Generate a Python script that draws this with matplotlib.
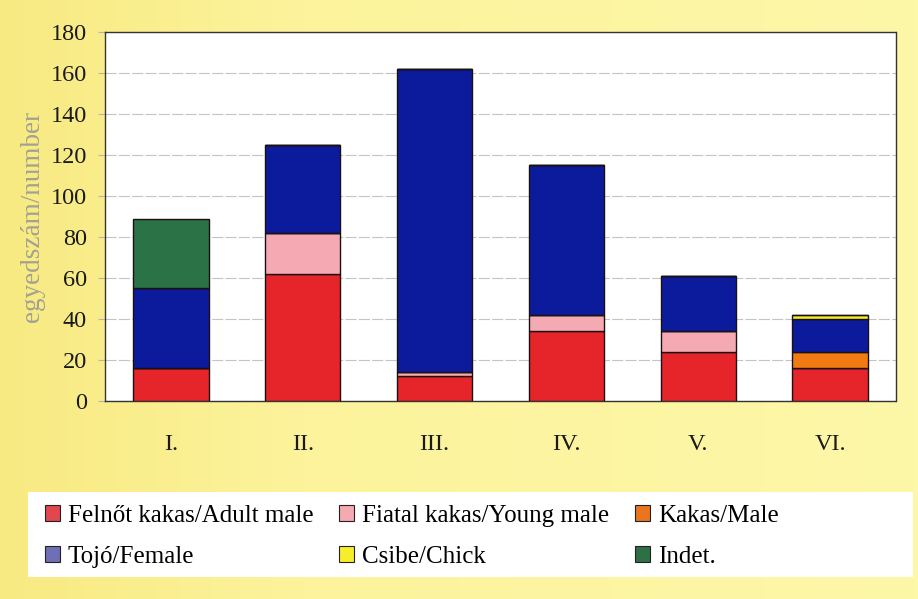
import matplotlib.pyplot as plt
import matplotlib.patches as mpatches
from matplotlib.colors import LinearSegmentedColormap
import numpy as np

plt.rcParams['font.family'] = ['Liberation Serif', 'DejaVu Serif']

periods = ['I.', 'II.', 'III.', 'IV.', 'V.', 'VI.']
adult_male = [16, 62, 12, 34, 24, 16]
young_male = [0, 20, 2, 8, 10, 0]
male = [0, 0, 0, 0, 0, 8]
female = [39, 43, 148, 73, 27, 16]
chick = [0, 0, 0, 0, 0, 2]
indet = [34, 0, 0, 0, 0, 0]

series = [
    ('Felnőt kakas/Adult male', adult_male, '#e5252a'),
    ('Fiatal kakas/Young male', young_male, '#f5a9b2'),
    ('Kakas/Male', male, '#f27a12'),
    ('Tojó/Female', female, '#0c1a9c'),
    ('Csibe/Chick', chick, '#f6ee2a'),
    ('Indet.', indet, '#2b7346'),
]
# legend swatches are printed a bit lighter than the bars
legend_colors = ['#e0474e', '#f5a9b2', '#e9751e', '#6f6fb5', '#f6ee2a', '#2e6f46']

fig = plt.figure(figsize=(9.18, 5.99), dpi=100)
fig.patch.set_facecolor('#fbf39a')

# soft yellow gradient behind everything
bg = fig.add_axes([0, 0, 1, 1], zorder=-10)
grad = np.linspace(0, 1, 256)[None, :]
cmap = LinearSegmentedColormap.from_list('bg', ['#f8ea82', '#fcf39c', '#fcf5a2', '#fdf7a8'])
bg.imshow(grad, aspect='auto', cmap=cmap, extent=[0, 1, 0, 1])
bg.set_axis_off()

ax = fig.add_axes([0.1144, 0.3306, 0.8616, 0.616])
ax.set_facecolor('white')

x = np.arange(len(periods))
bottom = np.zeros(len(periods))
for label, vals, color in series:
    vals = np.array(vals, dtype=float)
    ax.bar(x, vals, 0.57, bottom=bottom, color=color, edgecolor='#1a1010',
           linewidth=1.0, label=label, zorder=3)
    bottom += vals

ax.set_xlim(-0.5, 5.5)
ax.set_ylim(0, 180)
ax.set_yticks(range(0, 181, 20))
ax.set_xticks(x)
ax.set_xticklabels(periods)
ax.tick_params(axis='y', labelsize=17.5, length=5, width=0.8, color='#b5b5b5', pad=8,
               labelcolor='#1a1a1a')
ax.tick_params(axis='x', labelsize=17.5, length=0, pad=24, labelcolor='#1a1a1a')
ax.yaxis.grid(True, color='#c4c4c4', linewidth=0.8, linestyle=(0, (10, 2)), zorder=0)
for side in ['left', 'right', 'top', 'bottom']:
    ax.spines[side].set_linestyle((0, (2, 1)))
    ax.spines[side].set_linewidth(1.0)
    ax.spines[side].set_color('#333333')
ax.set_ylabel('egyedszám/number', fontsize=19.5, color='#a3a290', labelpad=4)

# white band holding the legend
fig.patches.append(mpatches.Rectangle((28 / 918, 22 / 599), 885 / 918, 85 / 599,
                                      transform=fig.transFigure, facecolor='white',
                                      edgecolor='none', zorder=1))
handles = [mpatches.Patch(facecolor=c, edgecolor='#222222', linewidth=0.8)
           for c in legend_colors]
labels = [s[0] for s in series]
# legend fills column by column; reorder so rows read left to right
order = [0, 3, 1, 4, 2, 5]
leg = fig.legend([handles[i] for i in order], [labels[i] for i in order], ncol=3,
                 loc='upper left', bbox_to_anchor=(25 / 918, 1 - 485 / 599),
                 frameon=False, prop={'family': 'Liberation Serif', 'size': 18},
                 handlelength=0.6, handleheight=0.6, handletextpad=0.3,
                 columnspacing=1.05, labelspacing=0.75, borderpad=0.3)
leg.set_zorder(2)

fig.savefig('out.png', dpi=100, facecolor=fig.get_facecolor())
